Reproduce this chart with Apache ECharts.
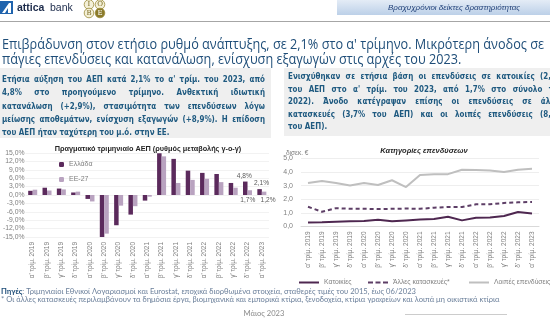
<!DOCTYPE html>
<html><head><meta charset="utf-8">
<script src="https://cdn.jsdelivr.net/npm/echarts@6/dist/echarts.min.js"></script>
<style>html,body{margin:0;padding:0;background:#fff;overflow:hidden}#c{width:550px;height:327px}</style>
</head><body><div id="c"></div>
<script>
// ---------- DATA ----------
const categories = ["α' τρίμ. 2019","β' τρίμ. 2019","γ' τρίμ. 2019","δ' τρίμ. 2019",
  "α' τρίμ. 2020","β' τρίμ. 2020","γ' τρίμ. 2020","δ' τρίμ. 2020",
  "α' τρίμ. 2021","β' τρίμ. 2021","γ' τρίμ. 2021","δ' τρίμ. 2021",
  "α' τρίμ. 2022","β' τρίμ. 2022","γ' τρίμ. 2022","δ' τρίμ. 2022","α' τρίμ. 2023"];
const greece = [1.5, 2.6, 2.3, 0.9, -1.4, -15.0, -10.8, -7.0, -2.0, 14.9, 12.9, 8.7, 7.9, 7.5, 4.3, 4.8, 2.1];
const eu27   = [1.9, 1.6, 2.0, 1.2, -2.3, -13.8, -3.8, -4.0, -0.6, 13.8, 4.3, 5.4, 5.8, 4.6, 2.6, 1.7, 1.2];
const gdpLabelled = [15, 16];
const gdpTicks = {min: -15, max: 15, step: 3};

const housing           = [0.30, 0.32, 0.35, 0.38, 0.40, 0.50, 0.38, 0.45, 0.52, 0.55, 0.72, 0.45, 0.64, 0.67, 0.77, 1.06, 0.96];
const otherConstruction = [1.45, 1.08, 1.35, 1.30, 1.30, 1.28, 1.30, 1.32, 1.30, 1.38, 1.43, 1.43, 1.63, 1.63, 1.73, 1.78, 1.80];
const otherInvestment   = [3.20, 3.35, 3.20, 3.02, 3.20, 3.05, 3.40, 2.90, 3.78, 3.85, 3.85, 4.17, 4.15, 4.12, 4.00, 4.17, 4.25];
const invTicks = {min: 0, max: 5, step: 1};

const seriesNames = {gr: 'Ελλάδα', eu: 'ΕΕ-27', h: 'Κατοικίες', oc: 'Άλλες κατασκευές*', oi: 'Λοιπές επενδύσεις'};

const titleLines = ["Επιβράδυνση στον ετήσιο ρυθμό ανάπτυξης, σε 2,1% στο α' τρίμηνο. Μικρότερη άνοδος σε",
  "πάγιες επενδύσεις και κατανάλωση, ενίσχυση εξαγωγών στις αρχές του 2023."];
const leftBox = ["Ετήσια αύξηση του ΑΕΠ κατά 2,1% το α' τρίμ. του 2023, από",
  "4,8% στο προηγούμενο τρίμηνο. Ανθεκτική ιδιωτική",
  "κατανάλωση (+2,9%), στασιμότητα των επενδύσεων λόγω",
  "μείωσης αποθεμάτων, ενίσχυση εξαγωγών (+8,9%). Η επίδοση",
  "του ΑΕΠ ήταν ταχύτερη του μ.ό. στην ΕΕ."];
const rightBox = ["Ενισχύθηκαν σε ετήσια βάση οι επενδύσεις σε κατοικίες (2,0%",
  "του ΑΕΠ στο α' τρίμ. του 2023, από 1,7% στο σύνολο του",
  "2022). Άνοδο κατέγραψαν επίσης οι επενδύσεις σε άλλες",
  "κατασκευές (3,7% του ΑΕΠ) και οι λοιπές επενδύσεις (8,8%",
  "του ΑΕΠ)."];
const sourceLabel = "Πηγές";
const sourceText = ": Τριμηνιαίοι Εθνικοί Λογαριασμοί και Eurostat, εποχικά διορθωμένα στοιχεία, σταθερές τιμές του 2015, έως 06/2023";
const noteText = "* Οι άλλες κατασκευές περιλαμβάνουν τα δημόσια έργα, βιομηχανικά και εμπορικά κτίρια, ξενοδοχεία, κτίρια γραφείων και λοιπά μη οικιστικά κτίρια";
const dateText = "Μάιος 2023";
const chart1Title = "Πραγματικό τριμηνιαίο ΑΕΠ (ρυθμός μεταβολής γ-ο-γ)";
const chart2Title = "Κατηγορίες επενδύσεων";
const chart2Unit = "δισεκ. €";
const headerText = "Βραχυχρόνιοι δείκτες δραστηριότητας";

// ---------- helpers ----------
const ctx = document.createElement('canvas').getContext('2d');
function measure(t, font){ ctx.font = font; return ctx.measureText(t).width; }
function fitSize(text, weight, family, target){ const w = measure(text, weight+' 20px '+family); return 20*target/w; }
function txt(text, x, y, font, fill, align, sx){
  return {type:'text', silent:true, x, y, scaleX: sx||1, scaleY:1,
    style:{text, x:0, y:0, font, fill, align: align||'left', verticalAlign:'middle', textAlign: align||'left', textVerticalAlign:'middle'}};
}
function justifyLine(line, x0, x1, y, font, fill, just, sx){
  const words = line.split(' ');
  if(!just || words.length < 2) return [txt(line, x0, y, font, fill, 'left', sx)];
  const ws = words.map(w => measure(w, font)*sx);
  const total = ws.reduce((a,b)=>a+b, 0);
  const gap = (x1 - x0 - total)/(words.length - 1);
  const out = []; let x = x0;
  words.forEach((w,i)=>{ out.push(txt(w, x, y, font, fill, 'left', sx)); x += ws[i] + gap; });
  return out;
}

const navy = '#1F4E79';
const boxText = '#1f5a80';
const graphics = [];
// header
graphics.push({type:'rect', silent:true, shape:{x:337,y:0,width:213,height:15},
  style:{fill:new echarts.graphic.LinearGradient(0,0,0,1,[{offset:0,color:'#e4ecf6'},{offset:1,color:'#bcd0e8'}])}});
graphics.push(txt(headerText, 388, 7.5, 'italic 8px "Liberation Sans"', '#1f3f77'));
graphics.push({type:'rect', silent:true, shape:{x:0,y:1,width:13,height:13}, style:{fill:'#1f63ad'}});
graphics.push({type:'polygon', silent:true, shape:{points:[[2,13],[9,3],[11,3],[11,13],[8,13],[8,8],[5,13]]}, style:{fill:'#fff'}});
graphics.push(txt('attica', 17, 8, 'bold 10.5px "Liberation Sans"', '#1b2a4a'));
graphics.push(txt('bank', 50, 8, '10.5px "Liberation Sans"', '#1b2a4a'));
[[89,4.5,'I',false],[100,4.5,'O',false],[89,13,'B',false],[100,13,'E',true]].forEach(c=>{
  graphics.push({type:'circle', silent:true, shape:{cx:c[0], cy:c[1], r:4.8}, style:{fill:c[3]?'#8a7a2a':'#f4f0d8', stroke:'#9c8c3a', lineWidth:0.8}});
  graphics.push(txt(c[2], c[0], c[1], '7px "DejaVu Serif"', c[3]?'#fff':'#7a6a20', 'center'));
});
graphics.push({type:'line', silent:true, shape:{x1:0,y1:21.5,x2:550,y2:21.5}, style:{stroke:'#a6a6a6', lineWidth:1}});
// title
const tFont = '14px "Open Sans"';
const tSx = 542/measure(titleLines[0], tFont);
graphics.push(txt(titleLines[0], 2, 45, tFont, navy, 'left', tSx));
graphics.push(txt(titleLines[1], 2, 60, tFont, navy, 'left', tSx));
// boxes
graphics.push({type:'rect', silent:true, shape:{x:0,y:68,width:271,height:70}, style:{fill:'#efefef'}});
graphics.push({type:'rect', silent:true, shape:{x:284,y:68,width:266,height:68}, style:{fill:'#efefef'}});
const bFam = '"DejaVu Sans"';
const bFont = 'bold 8.4px '+bFam;
const bSx = Math.min(252/measure(leftBox[3], bFont), 255/measure(leftBox[0], bFont));
const lys = [80, 93.2, 106.4, 119.6, 132.8];
leftBox.forEach((l,i)=> graphics.push(...justifyLine(l, 2, 265, lys[i], bFont, boxText, i<4, bSx)));
const rys = [77, 89.5, 102, 114.5, 127];
rightBox.forEach((l,i)=> graphics.push(...justifyLine(l, 288, 563, rys[i], bFont, boxText, i<4, bSx)));
// chart titles
graphics.push(txt(chart1Title, 148, 148.5, 'bold 7.3px "Liberation Sans"', '#262626', 'center'));
graphics.push(txt(chart2Title, 424, 151, 'bold italic 7.5px "Liberation Sans"', '#262626', 'center'));
graphics.push(txt(chart2Unit, 286, 153, '6.5px "Liberation Sans"', '#7f7f7f'));
// footnotes
const fFam = 'Lato';
const fSize = fitSize(noteText, 'normal', fFam, 499);
const fFont = fSize.toFixed(2)+'px '+fFam;
graphics.push(txt(sourceLabel, 1, 292, 'bold '+fFont, navy));
graphics.push(txt(sourceText, 1+measure(sourceLabel,'bold '+fFont), 292, fFont, '#6a7f9a'));
graphics.push(txt(noteText, 1, 299.5, fFont, '#6a7f9a'));
graphics.push(txt(dateText, 264, 314, fFont, '#8a8a8a', 'center'));
graphics.push({type:'line', silent:true, shape:{x1:405,y1:314.5,x2:507,y2:314.5}, style:{stroke:'#bfbfbf', lineWidth:0.8}});

// ---------- chart ----------
const fmtPct = v => v.toFixed(1).replace('.', ',') + '%';
const lblBase = {show:true, fontSize:6.6, color:'#595959', fontFamily:'Liberation Sans', formatter: p => fmtPct(p.value)};
const grData = greece.map((v,i)=> gdpLabelled.includes(i) ? {value:v, label:Object.assign({}, lblBase, {position:'top', distance:2, offset:[i===16?2:-1,0]})} : v);
const euData = eu27.map((v,i)=> gdpLabelled.includes(i) ? {value:v, label:Object.assign({}, lblBase, {position:'bottom', distance:2, offset:[i===16?4:-2,0]})} : v);
const catAxis = (gi) => ({gridIndex:gi, type:'category', data:categories,
  axisLine:{show:gi===1, onZero:false, lineStyle:{color:'#d9d9d9'}}, axisTick:{show:false},
  axisLabel:{rotate:90, interval:0, fontSize:6.5, color:'#7f7f7f', fontFamily:'Liberation Sans', margin:5}});
const solidIcon = 'path://M0,0H20V2H0Z';
const dashIcon = 'path://M0,0H5V2H0Z M7.5,0H12.5V2H7.5Z M15,0H20V2H15Z';
const lgText = {fontSize:6.8, color:'#7f7f7f', fontFamily:'Liberation Sans'};
const lineLegend = (name, left, icon) => ({data:[{name, icon}], left, top:279, itemWidth:20, itemHeight:2, textStyle:lgText, padding:0});

const option = {
  animation:false,
  textStyle:{fontFamily:'Liberation Sans'},
  graphic:{elements:graphics},
  legend:[
    {data:[seriesNames.gr, seriesNames.eu], orient:'vertical', left:54, top:156, itemWidth:5, itemHeight:5, itemGap:8,
      textStyle:{fontSize:7, color:'#7f7f7f'}},
    lineLegend(seriesNames.h, 299, solidIcon),
    lineLegend(seriesNames.oc, 368, dashIcon),
    lineLegend(seriesNames.oi, 469, solidIcon)
  ],
  grid:[{left:24, right:281, top:153, bottom:90}, {left:301, right:11, top:158.5, bottom:100.5}],
  xAxis:[catAxis(0), catAxis(1)],
  yAxis:[
    {gridIndex:0, type:'value', min:gdpTicks.min, max:gdpTicks.max, interval:gdpTicks.step,
      axisLabel:{fontSize:6.8, color:'#7f7f7f', margin:1, formatter:fmtPct},
      splitLine:{lineStyle:{color:'#ececec', width:0.7}}, axisLine:{show:false}, axisTick:{show:false}},
    {gridIndex:1, type:'value', min:invTicks.min, max:invTicks.max, interval:invTicks.step,
      axisLabel:{fontSize:7, color:'#7f7f7f', margin:8, formatter: v => v.toFixed(1).replace('.', ',')},
      splitLine:{lineStyle:{color:'#e6e6e6', width:0.7}}, axisLine:{show:false}, axisTick:{show:false}}
  ],
  series:[
    {name:seriesNames.gr, type:'bar', xAxisIndex:0, yAxisIndex:0, data:grData, barWidth:4.5, barGap:'0%',
      itemStyle:{color:'#5b2a5c'}},
    {name:seriesNames.eu, type:'bar', xAxisIndex:0, yAxisIndex:0, data:euData, barWidth:4.5, barGap:'0%',
      itemStyle:{color:'#b9a3c0'}},
    {name:seriesNames.h, type:'line', xAxisIndex:1, yAxisIndex:1, data:housing, showSymbol:false, symbol:'none',
      lineStyle:{color:'#4e2750', width:2}, itemStyle:{color:'#4e2750'}},
    {name:seriesNames.oc, type:'line', xAxisIndex:1, yAxisIndex:1, data:otherConstruction, showSymbol:false, symbol:'none',
      lineStyle:{color:'#5d3e66', width:2, type:[4,3]}, itemStyle:{color:'#5d3e66'}},
    {name:seriesNames.oi, type:'line', xAxisIndex:1, yAxisIndex:1, data:otherInvestment, showSymbol:false, symbol:'none',
      lineStyle:{color:'#bfbfbf', width:2}, itemStyle:{color:'#bfbfbf'}}
  ]
};
const chart = echarts.init(document.getElementById('c'), null, {renderer:'canvas'});
chart.setOption(option);
</script>
</body></html>
